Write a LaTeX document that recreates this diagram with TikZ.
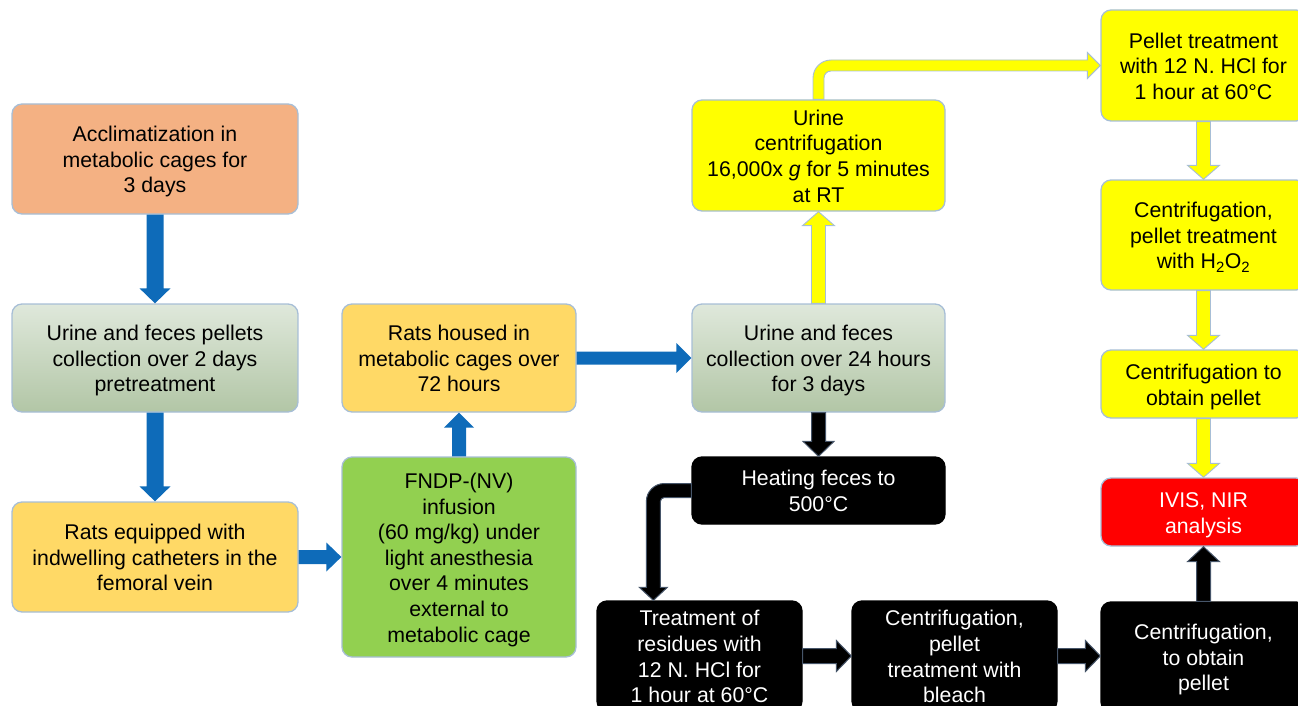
\documentclass[tikz,border=0pt]{standalone}
\usepackage{fontspec}
\setmainfont{Liberation Sans}
\usetikzlibrary{calc}
\definecolor{bordercol}{RGB}{167,190,214}
\definecolor{orangebox}{RGB}{244,177,131}
\definecolor{goldbox}{RGB}{255,217,102}
\definecolor{greenbox}{RGB}{146,208,80}
\definecolor{gradtop}{RGB}{223,232,219}
\definecolor{gradbot}{RGB}{178,198,166}
\definecolor{bluearrow}{RGB}{14,107,185}
\definecolor{yellowfill}{RGB}{255,255,0}
\definecolor{redbox}{RGB}{255,0,0}
\definecolor{darkedge}{RGB}{70,85,105}
\newcommand{\topstr}{\rule{0pt}{21.5pt}}
% vertical block arrow: style, from, to, shaft half, head half, head length
\newcommand{\arrV}[6]{%
  \path[#1] let \p1=(#2), \p2=(#3), \n1={ifthenelse(\y2>\y1,-1,1)} in
   ({\x1-#4},\y1) -- ({\x1-#4},{\y2+\n1*#6}) -- ({\x1-#5},{\y2+\n1*#6}) -- (\x1,\y2)
   -- ({\x1+#5},{\y2+\n1*#6}) -- ({\x1+#4},{\y2+\n1*#6}) -- ({\x1+#4},\y1) -- cycle;}
% horizontal block arrow
\newcommand{\arrH}[6]{%
  \path[#1] let \p1=(#2), \p2=(#3), \n1={ifthenelse(\x2>\x1,-1,1)} in
   (\x1,{\y1-#4}) -- ({\x2+\n1*#6},{\y1-#4}) -- ({\x2+\n1*#6},{\y1-#5}) -- (\x2,\y1)
   -- ({\x2+\n1*#6},{\y1+#5}) -- ({\x2+\n1*#6},{\y1+#4}) -- (\x1,{\y1+#4}) -- cycle;}
\begin{document}
\begin{tikzpicture}[x=1pt,y=-1pt,
  box/.style={draw=bordercol, line width=1.3pt, rounded corners=10pt, align=center,
    inner sep=0pt, font=\fontsize{21.3}{25.6}\selectfont,
    execute at end node={\rule[-5pt]{0pt}{5pt}}},
  gradbox/.style={box, top color=gradtop, bottom color=gradbot},
  kbox/.style={box, draw=black, fill=black, text=white},
  barrow/.style={fill=bluearrow},
  yarrow/.style={fill=yellowfill, draw=bordercol, line width=0.9pt},
  karrow/.style={fill=black, draw=darkedge, line width=1pt}]
\useasboundingbox (0,0) rectangle (1298,706);
\clip (0,0) rectangle (1298,706);

\node[box, fill=orangebox, minimum width=286pt, minimum height=110pt] (b1) at (155,159)
  {\topstr Acclimatization in\\metabolic cages for\\3 days};
\node[gradbox, minimum width=286pt, minimum height=108pt] (b2) at (155,358)
  {\topstr Urine and feces pellets\\collection over 2 days\\pretreatment};
\node[box, fill=goldbox, minimum width=286pt, minimum height=110pt] (b3) at (155,557)
  {\topstr Rats equipped with\\indwelling catheters in the\\femoral vein};
\node[box, fill=goldbox, minimum width=234pt, minimum height=108pt] (b4) at (459,358)
  {\topstr Rats housed in\\metabolic cages over\\72 hours};
\node[box, fill=greenbox, minimum width=234pt, minimum height=200pt] (b5) at (459,557)
  {\topstr FNDP-(NV)\\infusion\\(60 mg/kg) under\\light anesthesia\\over 4 minutes\\external to\\metabolic cage};
\node[gradbox, minimum width=253pt, minimum height=108pt] (b6) at (818.5,358)
  {\topstr Urine and feces\\collection over 24 hours\\for 3 days};
\node[box, fill=yellowfill, minimum width=253pt, minimum height=111pt] (b7) at (818.5,155.5)
  {\topstr Urine\\centrifugation\\16,000x \textit{g} for 5 minutes\\at RT};
\node[kbox, minimum width=253pt, minimum height=67pt] (b8) at (818.5,490.5)
  {\topstr Heating feces to\\500°C};
\node[kbox, minimum width=205pt, minimum height=110pt] (b9) at (699.5,656)
  {\topstr Treatment of\\residues with\\12 N. HCl for\\1 hour at 60°C};
\node[kbox, minimum width=205pt, minimum height=110pt] (b10) at (954.5,656)
  {\topstr Centrifugation,\\pellet\\treatment with\\bleach};
\node[kbox, minimum width=205pt, minimum height=110pt] (b11) at (1203.5,657)
  {\topstr Centrifugation,\\to obtain\\pellet};
\node[box, fill=yellowfill, minimum width=205pt, minimum height=111pt] (b12) at (1203.5,65.5)
  {\topstr Pellet treatment\\with 12 N. HCl for\\1 hour at 60°C};
\node[box, fill=yellowfill, minimum width=205pt, minimum height=110pt] (b13) at (1203.5,235)
  {\topstr Centrifugation,\\pellet treatment\\with H\textsubscript{2}O\textsubscript{2}};
\node[box, fill=yellowfill, minimum width=205pt, minimum height=68pt] (b14) at (1203.5,384)
  {\topstr Centrifugation to\\obtain pellet};
\node[box, fill=redbox, text=white, minimum width=205pt, minimum height=68pt] (b15) at (1203.5,512)
  {\topstr IVIS, NIR\\analysis};

% blue arrows
\arrV{barrow}{b1.south}{b2.north}{8.5pt}{15.5pt}{15pt}
\arrV{barrow}{b2.south}{b3.north}{8.5pt}{15.5pt}{15pt}
\arrH{barrow}{b3.east}{b3.east -| b5.west}{7pt}{14.5pt}{15pt}
\arrV{barrow}{b5.north}{b4.south}{7pt}{15pt}{15pt}
\arrH{barrow}{b4.east}{b6.west}{6.5pt}{15pt}{15pt}

% yellow arrows
\arrV{yarrow}{b6.north}{b7.south}{7pt}{16pt}{14pt}
\arrV{yarrow}{b12.south}{b13.north}{7pt}{16pt}{14pt}
\arrV{yarrow}{b13.south}{b14.north}{7pt}{16pt}{14pt}
\arrV{yarrow}{b14.south}{b15.north}{7pt}{16pt}{14pt}
\path[yarrow] let \p1=(b7.north), \p2=(b12.west) in
  ({\x1-5.5pt},\y1) -- ({\x1-5.5pt},{\y2+5.5pt-18pt}) arc[start angle=180,end angle=90,radius=18pt]
  -- ({\x2-13pt},{\y2+5.5pt}) -- ({\x2-13pt},{\y2+13pt}) -- (\x2,\y2)
  -- ({\x2-13pt},{\y2-13pt}) -- ({\x2-13pt},{\y2-5.5pt})
  -- ({\x1+12.5pt},{\y2-5.5pt}) arc[start angle=90,end angle=180,radius=7pt]
  -- ({\x1+5.5pt},\y1) -- cycle;

% black arrows
\arrV{karrow}{b6.south}{b8.north}{7pt}{15.5pt}{15pt}
\arrH{karrow}{b9.east}{b10.west}{7.5pt}{15.5pt}{15pt}
\arrH{karrow}{b10.east}{b11.west}{7.5pt}{15.5pt}{15pt}
\arrV{karrow}{b11.north}{b15.south}{7pt}{16pt}{15pt}
\path[karrow] let \p1=(b8.west), \p2=($(b9.north west)+(57,0)$) in
  (\x1,{\y1+7pt}) -- ({\x2+11pt},{\y1+7pt}) arc[start angle=90,end angle=180,radius=18pt]
  -- ({\x2-7pt},{\y2+13pt}) -- ({\x2-14pt},{\y2+13pt}) -- (\x2,\y2)
  -- ({\x2+14pt},{\y2+13pt}) -- ({\x2+7pt},{\y2+13pt})
  -- ({\x2+7pt},{\y1-11pt}) arc[start angle=180,end angle=90,radius=4pt]
  -- (\x1,{\y1-7pt}) -- cycle;
\end{tikzpicture}
\end{document}
